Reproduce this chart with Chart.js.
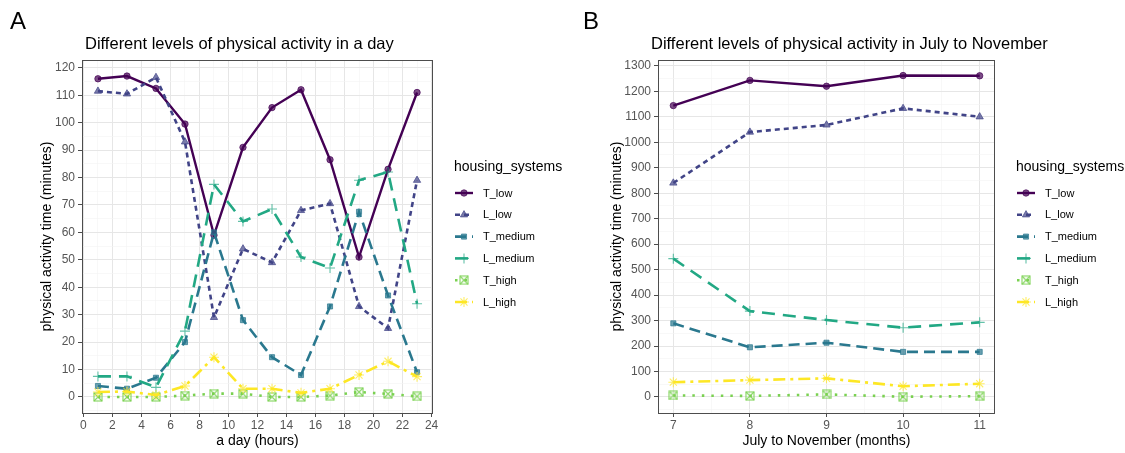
<!DOCTYPE html>
<html>
<head>
<meta charset="utf-8">
<script src="https://cdn.jsdelivr.net/npm/chart.js@4.4.0/dist/chart.umd.min.js"></script>
<style>
  body { margin: 0; background: #fff; width: 1125px; height: 453px; overflow: hidden; }
  .panel { position: absolute; top: 0; height: 453px; }
  #wrapA { left: 0; width: 580px; }
  #wrapB { left: 560px; width: 565px; }
</style>
</head>
<body>
<div class="panel" id="wrapA"><canvas id="chartA" width="580" height="453"></canvas></div>
<div class="panel" id="wrapB"><canvas id="chartB" width="565" height="453"></canvas></div>
<script>
// series names (legend order)
const groups = ['T_low', 'L_low', 'T_medium', 'L_medium', 'T_high', 'L_high'];

// panel A: a day (hours)
const hours = [1, 3, 5, 7, 9, 11, 13, 15, 17, 19, 21, 23];
const dayT_low    = [116, 117, 112.5, 99.5, 59, 91, 105.5, 112, 86.5, 51, 83, 111];
const dayL_low    = [111.5, 110.5, 116.5, 93, 29, 54, 49, 68, 70.5, 33, 25, 79];
const dayT_medium = [4, 3, 7, 20, 60, 28, 14.5, 8, 33, 67.5, 37, 9];
const dayL_medium = [7.5, 7.5, 3.5, 24, 77.5, 64, 68.5, 51, 47, 79, 82, 34];
const dayT_high   = [0, 0, 0, 0.5, 1.2, 1.2, 0, 0, 0.5, 1.8, 1.1, 0.2];
const dayL_high   = [1.8, 2, 0.7, 4, 14.5, 3, 3, 1.5, 3, 8, 13, 7.4];
const dayXMajor = [0, 2, 4, 6, 8, 10, 12, 14, 16, 18, 20, 22, 24];
const dayXMinor = [1, 3, 5, 7, 9, 11, 13, 15, 17, 19, 21, 23];
const dayYMajor = [0, 10, 20, 30, 40, 50, 60, 70, 80, 90, 100, 110, 120];
const dayYMinor = [-5, 5, 15, 25, 35, 45, 55, 65, 75, 85, 95, 105, 115];

// panel B: July to November (months)
const months = [7, 8, 9, 10, 11];
const monT_low    = [1144, 1243, 1220, 1262, 1261];
const monL_low    = [840, 1040, 1068, 1133, 1100];
const monT_medium = [289, 195, 213, 177, 177];
const monL_medium = [543, 337, 302, 272, 293];
const monT_high   = [6, 4, 10, 1, 3];
const monL_high   = [58, 66, 73, 42, 52];
const monXMajor = [7, 8, 9, 10, 11];
const monXMinor = [7.5, 8.5, 9.5, 10.5];
const monYMajor = [0, 100, 200, 300, 400, 500, 600, 700, 800, 900, 1000, 1100, 1200, 1300];
const monYMinor = [-50, 50, 150, 250, 350, 450, 550, 650, 750, 850, 950, 1050, 1150, 1250];

const FONT = '"Liberation Sans", Arial, sans-serif';

// boxed X marker (ggplot shape 7)
function boxX(color) {
  const c = document.createElement('canvas');
  c.width = 10; c.height = 10;
  const g = c.getContext('2d');
  g.strokeStyle = color; g.lineWidth = 1.2;
  g.strokeRect(1, 1, 8, 8);
  g.beginPath();
  g.moveTo(1, 1); g.lineTo(9, 9);
  g.moveTo(9, 1); g.lineTo(1, 9);
  g.stroke();
  return c;
}

const styles = {
  T_low:    { color: '#440154', fill: 'rgba(68,1,84,0.7)',    dash: [],           width: 2.4, point: 'circle',   radius: 3.2, bw: 1 },
  L_low:    { color: '#414487', fill: 'rgba(65,68,135,0.7)',  dash: [5, 4],       width: 2.6, point: 'triangle', radius: 4.2, bw: 1 },
  T_medium: { color: '#2A788E', fill: 'rgba(42,120,142,0.7)', dash: [11, 6],      width: 2.6, point: 'rect',     radius: 3.6, bw: 1 },
  L_medium: { color: '#22A884', fill: 'rgba(34,168,132,0.7)', dash: [13, 8],      width: 2.6, point: 'cross',    radius: 5,   bw: 1.1 },
  T_high:   { color: '#7AD151', fill: 'rgba(122,209,81,0.7)', dash: [2.5, 7],     width: 2.6, point: boxX('rgba(122,209,81,0.85)'), radius: 5, bw: 1 },
  L_high:   { color: '#FDE725', fill: 'rgba(253,231,37,0.7)', dash: [12, 5, 3, 5], width: 2.6, point: 'star',   radius: 5,   bw: 1.1 }
};

function makeSets(xs, series) {
  return groups.map((g, i) => {
    const s = styles[g];
    return {
      label: g,
      data: xs.map((x, j) => ({ x: x, y: series[i][j] })),
      borderColor: s.color,
      backgroundColor: s.fill,
      borderWidth: s.width,
      borderDash: s.dash,
      pointStyle: s.point,
      pointRadius: s.radius,
      pointBorderWidth: s.bw,
      pointBackgroundColor: s.fill,
      pointBorderColor: s.fill,
      tension: 0,
      order: 6 - i
    };
  });
}

// letter, title, panel border and the legend
const decor = {
  id: 'decor',
  afterDraw(chart, args, o) {
    const ctx = chart.ctx;
    const a = chart.chartArea;
    ctx.save();
    ctx.strokeStyle = '#4d4d4d';
    ctx.lineWidth = 1;
    ctx.strokeRect(a.left + 0.5, a.top + 0.5, a.right - a.left - 1, a.bottom - a.top);

    ctx.fillStyle = '#000';
    ctx.textBaseline = 'alphabetic';
    ctx.textAlign = 'left';
    ctx.font = '24px ' + FONT;
    ctx.fillText(o.letter, o.letterX, 29);
    ctx.font = '16.5px ' + FONT;
    ctx.fillText(o.title, o.titleX, 49);

    ctx.font = '14px ' + FONT;
    ctx.textBaseline = 'middle';
    ctx.fillText('housing_systems', o.legX, 167);
    ctx.font = '11px ' + FONT;
    chart.data.datasets.forEach((ds, i) => {
      const y = 193 + i * 21.8;
      ctx.strokeStyle = ds.borderColor;
      ctx.lineWidth = ds.borderWidth;
      ctx.setLineDash(ds.borderDash);
      ctx.beginPath();
      ctx.moveTo(o.legX + 1, y);
      ctx.lineTo(o.legX + 19, y);
      ctx.stroke();
      ctx.setLineDash([]);
      ctx.fillStyle = ds.pointBackgroundColor;
      ctx.strokeStyle = ds.pointBorderColor;
      ctx.lineWidth = ds.pointBorderWidth;
      Chart.helpers.drawPoint(ctx, { pointStyle: ds.pointStyle, radius: ds.pointRadius, borderWidth: ds.pointBorderWidth, rotation: 0 }, o.legX + 10, y);
      ctx.fillStyle = '#000';
      ctx.fillText(ds.label, o.legX + 29, y + 0.5);
    });
    ctx.restore();
  }
};

function axis(min, max, major, minor, fixed, isX, title, titlePad) {
  const all = major.concat(minor).sort((p, q) => p - q);
  return {
    type: 'linear',
    min: min,
    max: max,
    afterBuildTicks: s => { s.ticks = all.map(v => ({ value: v })); },
    afterFit: s => { if (isX) s.height = fixed; else s.width = fixed; },
    border: { display: false },
    grid: {
      color: c => major.includes(c.tick.value) ? '#e6e6e6' : '#f3f3f3',
      lineWidth: c => major.includes(c.tick.value) ? 1 : 0.6,
      tickColor: c => major.includes(c.tick.value) ? '#4d4d4d' : 'rgba(0,0,0,0)',
      tickLength: 4,
      drawTicks: true
    },
    ticks: {
      autoSkip: false,
      maxRotation: 0,
      padding: isX ? 1 : 3,
      color: '#555',
      font: { family: FONT, size: 12 },
      callback: v => major.includes(v) ? String(v) : ''
    },
    title: {
      display: true,
      text: title,
      color: '#000',
      font: { family: FONT, size: 14 },
      padding: titlePad
    }
  };
}

function build(id, xs, series, xr, yr, xMajor, xMinor, yMajor, yMinor, yWidth, rightPad, xTitle, yTitle, yTitleX, deco) {
  return new Chart(document.getElementById(id), {
    type: 'line',
    data: { datasets: makeSets(xs, series) },
    options: {
      responsive: false,
      animation: false,
      devicePixelRatio: 1,
      layout: { padding: { left: 0, top: 60, right: rightPad, bottom: 0 } },
      plugins: { legend: { display: false }, tooltip: { enabled: false }, decor: deco },
      scales: {
        x: axis(xr[0], xr[1], xMajor, xMinor, 40, true, xTitle, { top: 0, bottom: 3.6 }),
        y: axis(yr[0], yr[1], yMajor, yMinor, yWidth, false, yTitle, { top: yTitleX - 8.4, bottom: 0 })
      }
    },
    plugins: [decor]
  });
}

build('chartA', hours,
  [dayT_low, dayL_low, dayT_medium, dayL_medium, dayT_high, dayL_high],
  [-0.1, 24.1], [-5.85, 122.85], dayXMajor, dayXMinor, dayYMajor, dayYMinor,
  82, 147, 'a day (hours)', 'physical activity time (minutes)', 47,
  { letter: 'A', letterX: 10, title: 'Different levels of physical activity in a day', titleX: 85, legX: 454 });

build('chartB', months,
  [monT_low, monL_low, monT_medium, monL_medium, monT_high, monL_high],
  [6.8, 11.2], [-63, 1323], monXMajor, monXMinor, monYMajor, monYMinor,
  98, 130, 'July to November (months)', 'physical activity time (minutes)', 57,
  { letter: 'B', letterX: 23, title: 'Different levels of physical activity in July to November', titleX: 91, legX: 456 });
</script>
</body>
</html>
